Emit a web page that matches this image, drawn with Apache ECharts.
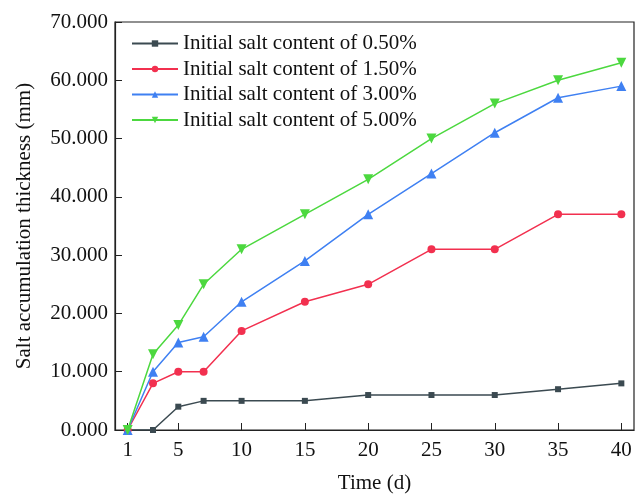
<!DOCTYPE html>
<html><head><meta charset="utf-8">
<script src="https://cdn.jsdelivr.net/npm/echarts@6/dist/echarts.min.js"></script>
<style>html,body{margin:0;padding:0;background:#fff}#c{width:636px;height:499px}</style>
</head><body><div id="c"></div>
<script>
const days = [1, 3, 5, 7, 10, 15, 20, 25, 30, 35, 40];
const xTicks = [1, 5, 10, 15, 20, 25, 30, 35, 40];
const seriesNames = ['Initial salt content of 0.50%', 'Initial salt content of 1.50%', 'Initial salt content of 3.00%', 'Initial salt content of 5.00%'];
const salt050 = [0, 0, 4, 5, 5, 5, 6, 6, 6, 7, 8];
const salt150 = [0, 8, 10, 10, 17, 22, 25, 31, 31, 37, 37];
const salt300 = [0, 10, 15, 16, 22, 29, 37, 44, 51, 57, 59];
const salt500 = [0, 13, 18, 25, 31, 37, 43, 50, 56, 60, 63];

const FONT = 'Liberation Serif';
const colors = ['#3b4a51', '#f2304f', '#3f80f2', '#4cd83f'];
const symbols = ['rect', 'circle', 'triangle', 'triangle'];
const sizes = [6, 8, 10, 10];
const rotates = [0, 0, 0, 180];
const vals = [salt050, salt150, salt300, salt500];

const chart = echarts.init(document.getElementById('c'), null, {renderer: 'canvas'});
chart.setOption({
  animation: false,
  backgroundColor: '#fff',
  grid: {left: 115, right: 2, top: 22, bottom: 65, show: true, borderColor: '#222', borderWidth: 1.2, containLabel: false},
  legend: {
    orient: 'vertical', left: 126, top: 28, itemWidth: 46, itemHeight: 8, itemGap: 4.5,
    textStyle: {fontFamily: FONT, fontSize: 21, color: '#111'},
    data: seriesNames
  },
  xAxis: {
    type: 'value', min: 0, max: 41,
    name: 'Time (d)', nameLocation: 'middle', nameGap: 43,
    nameTextStyle: {fontFamily: FONT, fontSize: 21, color: '#111'},
    axisLine: {lineStyle: {color: '#222', width: 1.2}},
    axisTick: {inside: true, length: 7, lineStyle: {color: '#222'}, customValues: xTicks},
    axisLabel: {fontFamily: FONT, fontSize: 21, color: '#111', margin: 10, customValues: xTicks},
    splitLine: {show: false}
  },
  yAxis: {
    type: 'value', min: 0, max: 70, interval: 10,
    name: 'Salt accumulation thickness (mm)', nameLocation: 'middle', nameGap: 80,
    nameTextStyle: {fontFamily: FONT, fontSize: 21, color: '#111'},
    axisLine: {show: true, lineStyle: {color: '#222', width: 1.2}},
    axisTick: {show: true, inside: true, length: 7, lineStyle: {color: '#222'}},
    axisLabel: {fontFamily: FONT, fontSize: 21, color: '#111', margin: 7, formatter: v => v.toFixed(3)},
    splitLine: {show: false}
  },
  series: seriesNames.map((n, i) => ({
    name: n, type: 'line',
    data: days.map((d, j) => [d, vals[i][j]]),
    symbol: symbols[i], symbolSize: sizes[i], symbolRotate: rotates[i],
    showAllSymbol: true,
    itemStyle: {color: colors[i]},
    lineStyle: {color: colors[i], width: 1.5},
    z: 2 + i
  }))
});
</script></body></html>
